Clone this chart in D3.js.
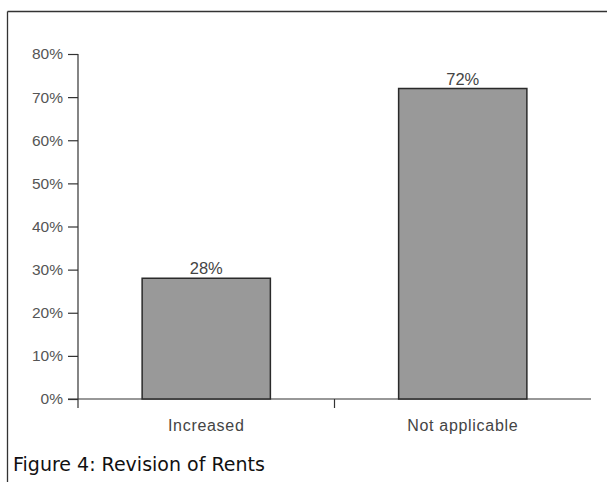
<html>
<head>
  <style>
    body { margin: 0; background: #fff; }
  </style>
</head>
<body>
<script src="https://d3js.org/d3.v7.min.js"></script>
<script>
  // rent revision shares
  var categories = ["Increased", "Not applicable"];
  var values = [28, 72];
  var tickValues = [0, 10, 20, 30, 40, 50, 60, 70, 80];
  var caption = "Figure 4: Revision of Rents";

  var width = 607;
  var height = 482;

  var svg = d3.select('body')
      .append('svg')
      .attr('width', width)
      .attr('height', height);

  // frame round the figure (only top and left edges show)
  svg.append('line')
      .attr('x1', 7.5).attr('x2', width)
      .attr('y1', 11.5).attr('y2', 11.5)
      .attr('stroke', '#333').attr('stroke-width', 1.3);
  svg.append('line')
      .attr('x1', 7.5).attr('x2', 7.5)
      .attr('y1', 11.5).attr('y2', height)
      .attr('stroke', '#333').attr('stroke-width', 1.3);

  // plot area
  var plotLeft = 78, plotRight = 591, plotTop = 54, plotBottom = 399;

  var x = d3.scaleBand().domain(categories).range([plotLeft, plotRight]).paddingInner(0.5).paddingOuter(0.25);
  var y = d3.scaleLinear().domain([0, 80]).range([plotBottom, plotTop]);

  var labelFont = 'Liberation Sans, Arial, sans-serif';

  // y axis
  var yAxis = svg.append('g')
      .attr('transform', 'translate(' + plotLeft + ',0)')
      .call(d3.axisLeft(y).tickValues(tickValues).tickFormat(function(d){ return d + '%'; }).tickSize(10).tickPadding(5));
  yAxis.select('.domain').attr('stroke', '#333').attr('stroke-width', 1.2)
      .attr('d', 'M0,' + plotTop + 'V' + (plotBottom + 9));
  yAxis.selectAll('.tick line').attr('stroke', '#333').attr('stroke-width', 1.2);
  yAxis.selectAll('text')
      .attr('fill', '#555')
      .attr('font-family', labelFont)
      .style('font-size', '15.5px');

  // x axis line with a tick between the two groups
  var xAxis = svg.append('g');
  xAxis.append('line')
      .attr('x1', plotLeft - 10).attr('x2', plotRight)
      .attr('y1', plotBottom).attr('y2', plotBottom)
      .attr('stroke', '#333').attr('stroke-width', 1.2);
  xAxis.append('line')
      .attr('x1', (plotLeft + plotRight) / 2).attr('x2', (plotLeft + plotRight) / 2)
      .attr('y1', plotBottom).attr('y2', plotBottom + 9)
      .attr('stroke', '#333').attr('stroke-width', 1.2);

  // bars
  svg.selectAll('rect.bar')
      .data(values)
      .enter()
      .append('rect')
      .attr('class', 'bar')
      .attr('x', function(d, i){ return x(categories[i]); })
      .attr('y', function(d){ return y(d); })
      .attr('width', x.bandwidth())
      .attr('height', function(d){ return plotBottom - y(d); })
      .attr('fill', '#999')
      .attr('stroke', '#2a2a2a')
      .attr('stroke-width', 1.5);

  // value labels
  svg.selectAll('text.val')
      .data(values)
      .enter()
      .append('text')
      .attr('class', 'val')
      .attr('x', function(d, i){ return x(categories[i]) + x.bandwidth() / 2; })
      .attr('y', function(d){ return y(d) - 4; })
      .attr('text-anchor', 'middle')
      .attr('fill', '#444')
      .attr('font-family', labelFont)
      .style('font-size', '16.5px')
      .text(function(d){ return d + '%'; });

  // category labels
  svg.selectAll('text.cat')
      .data(categories)
      .enter()
      .append('text')
      .attr('class', 'cat')
      .attr('x', function(d){ return x(d) + x.bandwidth() / 2; })
      .attr('y', plotBottom + 32)
      .attr('text-anchor', 'middle')
      .attr('fill', '#444')
      .attr('font-family', labelFont)
      .style('font-size', '16px')
      .style('letter-spacing', '0.7px')
      .text(function(d){ return d; });

  // caption
  svg.append('text')
      .attr('x', 13)
      .attr('y', 471)
      .attr('fill', '#111')
      .attr('font-family', 'DejaVu Sans, Verdana, sans-serif')
      .style('font-size', '19px')
      .text(caption);
</script>
</body>
</html>
